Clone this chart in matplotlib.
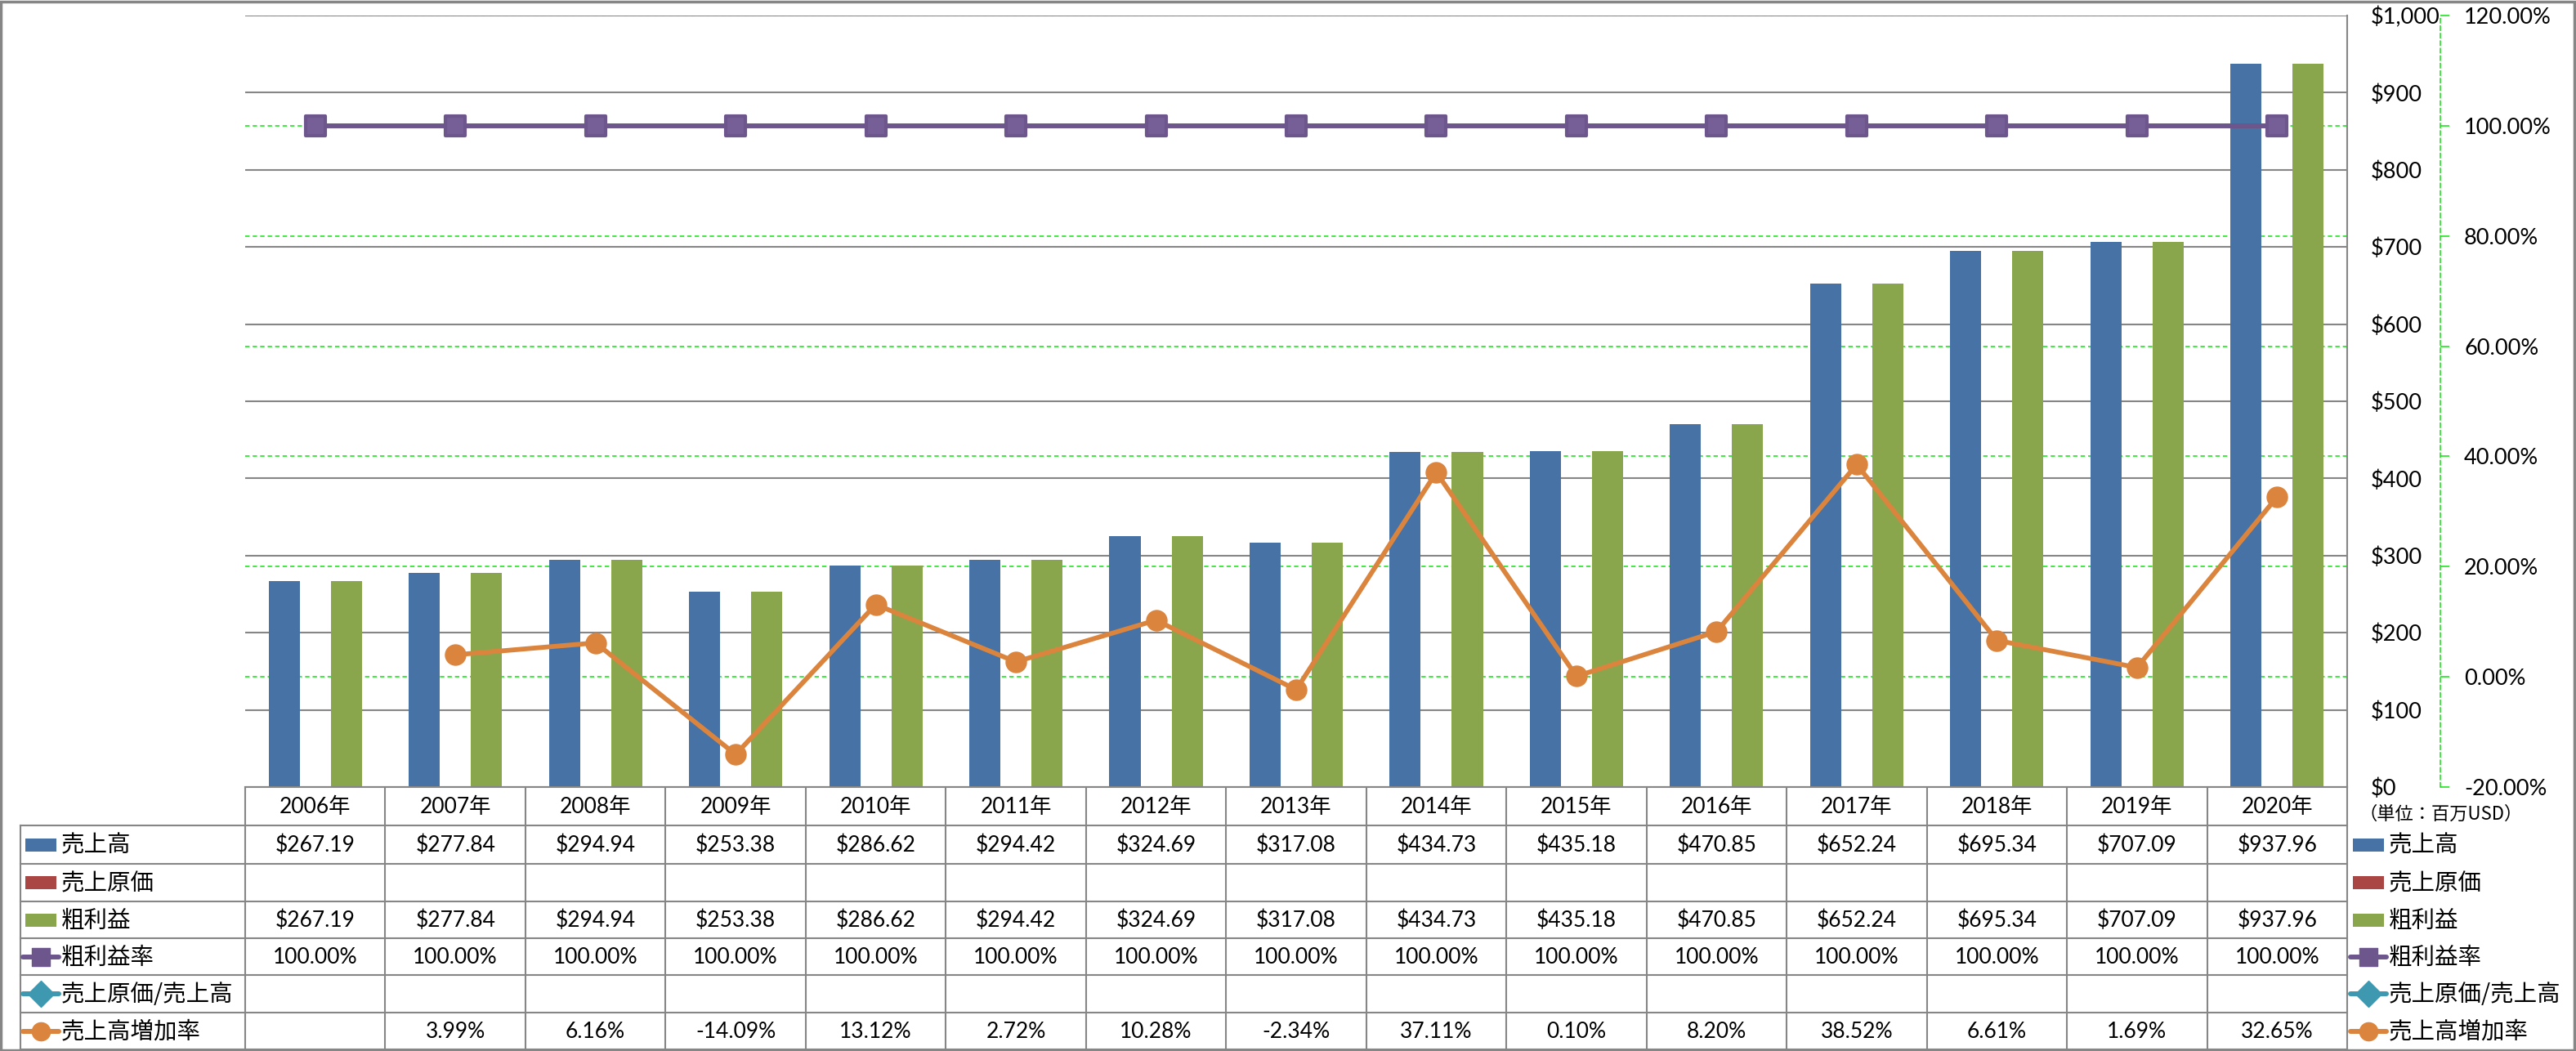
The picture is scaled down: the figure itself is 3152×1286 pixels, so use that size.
import matplotlib
matplotlib.use("Agg")
import matplotlib.pyplot as plt
import matplotlib.transforms as mtransforms
from matplotlib.markers import MarkerStyle
from matplotlib.patches import Rectangle
from matplotlib.lines import Line2D

plt.rcParams["font.family"] = ["Lato", "Noto Sans CJK JP", "DejaVu Sans"]

# --- datos ---
years = ["2006年", "2007年", "2008年", "2009年", "2010年", "2011年", "2012年", "2013年",
         "2014年", "2015年", "2016年", "2017年", "2018年", "2019年", "2020年"]
sales = [267.19, 277.84, 294.94, 253.38, 286.62, 294.42, 324.69, 317.08,
         434.73, 435.18, 470.85, 652.24, 695.34, 707.09, 937.96]
cogs = [None, None, None, None, None, None, None, None,
        None, None, None, None, None, None, None]
gross = [267.19, 277.84, 294.94, 253.38, 286.62, 294.42, 324.69, 317.08,
         434.73, 435.18, 470.85, 652.24, 695.34, 707.09, 937.96]
margin = [100.0, 100.0, 100.0, 100.0, 100.0, 100.0, 100.0, 100.0,
          100.0, 100.0, 100.0, 100.0, 100.0, 100.0, 100.0]
cogs_ratio = [None, None, None, None, None, None, None, None,
              None, None, None, None, None, None, None]
growth = [None, 3.99, 6.16, -14.09, 13.12, 2.72, 10.28, -2.34,
          37.11, 0.10, 8.20, 38.52, 6.61, 1.69, 32.65]
usd_ticks = [0, 100, 200, 300, 400, 500, 600, 700, 800, 900, 1000]
pct_ticks = [-20, 0, 20, 40, 60, 80, 100, 120]
series_names = ["売上高", "売上原価", "粗利益", "粗利益率", "売上原価/売上高", "売上高増加率"]

C_BLUE, C_RED, C_GREEN = "#4672a6", "#aa4644", "#8aa64d"
C_PURPLE, C_CYAN, C_ORANGE = "#6c568c", "#3d98b0", "#db843d"
GRAY = "#868686"
LGREEN = "#11e011"

W, H = 3152, 1286
fig = plt.figure(figsize=(W / 100, H / 100), dpi=100)
PL, PR, PT, PB = 300, 2872, 19, 963
ax = fig.add_axes([PL / W, (H - PB) / H, (PR - PL) / W, (PB - PT) / H])
axp = ax.twinx()
ax.set_zorder(1)
axp.set_zorder(2)
axp.patch.set_visible(False)

x = list(range(len(years)))
bw = 0.222
ax.bar([i - bw for i in x], sales, bw, color=C_BLUE, zorder=2)
ax.bar(x, [0 if v is None else v for v in cogs], bw, color=C_RED, zorder=2)
ax.bar([i + bw for i in x], gross, bw, color=C_GREEN, zorder=2)
ax.set_xlim(-0.5, len(years) - 0.5)
ax.set_ylim(0, 1000)
ax.set_yticks(usd_ticks)
ax.set_yticklabels([f"${v:,.0f}" for v in usd_ticks])
ax.yaxis.tick_right()
ax.tick_params(axis="y", length=0, pad=21, labelsize=19.5)
ax.set_xticks([])
ax.grid(axis="y", color=GRAY, lw=1.5, zorder=0)
ax.set_axisbelow(True)
for s in ("left", "top"):
    ax.spines[s].set_visible(False)
ax.spines["right"].set_color(GRAY)
ax.spines["right"].set_linewidth(1.5)
ax.spines["bottom"].set_color(GRAY)
ax.spines["bottom"].set_linewidth(1.5)

# rejilla verde del eje secundario, detrás de las barras
blend = mtransforms.blended_transform_factory(ax.transAxes, axp.transData)
for v in pct_ticks[1:]:
    ax.plot([0, 1], [v, v], transform=blend, color=LGREEN, lw=1.1,
            dashes=(3.5, 2.5), zorder=1)

sq = MarkerStyle("s", joinstyle="round")
axp.plot(x, margin, color=C_PURPLE, lw=4.3, marker=sq, ms=17, mew=3,
         mec=C_PURPLE, mfc="#765e96")
gx = [i for i, v in zip(x, growth) if v is not None]
gy = [v for v in growth if v is not None]
axp.plot(gx, gy, color=C_ORANGE, lw=4.2, marker="o", ms=18, mec=C_ORANGE, mfc=C_ORANGE)
axp.set_ylim(-20, 120)
axp.set_yticks(pct_ticks)
axp.set_yticklabels([f"{v:.2f}%" for v in pct_ticks])
for lab, v in zip(axp.get_yticklabels(), pct_ticks):
    if v < 0:
        lab.set_color("red")
axp.spines["right"].set_position(("outward", 82))
axp.spines["right"].set_color(LGREEN)
axp.spines["right"].set_linestyle((0, (3.5, 2.5)))
axp.spines["right"].set_linewidth(1.1)
for s in ("left", "top", "bottom"):
    axp.spines[s].set_visible(False)
axp.tick_params(axis="y", length=8, width=1.1, color=LGREEN, pad=13, labelsize=19.5)

# --- tabla de datos y leyenda ---
tab = fig.add_axes([0, 0, 1, 1], zorder=0)
tab.set_xlim(0, W)
tab.set_ylim(H, 0)
tab.axis("off")
tb = mtransforms.blended_transform_factory(ax.transData, tab.transData)

rows = [963, 1010, 1057, 1103, 1148, 1193, 1239, 1284]
TL = 25
for i, yy in enumerate(rows[1:]):
    tab.plot([TL, PR], [yy, yy], color=GRAY, lw=1.5)
tab.plot([TL, TL], [rows[1], rows[-1]], color=GRAY, lw=1.5)
for i in range(len(years) + 1):
    tab.plot([i - 0.5, i - 0.5], [rows[0], rows[-1]], color=GRAY, lw=1.5, transform=tb)

cy = [(rows[k] + rows[k + 1]) / 2 for k in range(len(rows) - 1)]
for i, yl in enumerate(years):
    tab.text(i, cy[0] + 1, yl, transform=tb, ha="center", va="center", fontsize=19)

table_rows = [
    [None if v is None else f"${v:,.2f}" for v in sales],
    [None if v is None else f"${v:,.2f}" for v in cogs],
    [None if v is None else f"${v:,.2f}" for v in gross],
    [None if v is None else f"{v:.2f}%" for v in margin],
    [None if v is None else f"{v:.2f}%" for v in cogs_ratio],
    [None if v is None else f"{v:.2f}%" for v in growth],
]
for r, vals in enumerate(table_rows):
    for i, t in enumerate(vals):
        if t is not None:
            tab.text(i, cy[r + 1] + 1, t, transform=tb, ha="center", va="center", fontsize=19)

keys = [("bar", C_BLUE, None), ("bar", C_RED, None), ("bar", C_GREEN, None),
        ("line", C_PURPLE, sq), ("line", C_CYAN, "D"), ("line", C_ORANGE, "o")]


def draw_key(x0, x1, yc, kind, color, mk):
    if kind == "bar":
        tab.add_patch(Rectangle((x0 + 3, yc - 8), x1 - x0 - 6, 16, color=color, lw=0))
    else:
        tab.add_line(Line2D([x0, x1], [yc, yc], color=color, lw=4.3, solid_capstyle="round"))
        tab.add_line(Line2D([(x0 + x1) / 2], [yc], marker=mk, ms=16, color=color,
                            mec=color, mew=1))


for r, (name, (kind, color, mk)) in enumerate(zip(series_names, keys)):
    yc = cy[r + 1]
    draw_key(28, 72, yc, kind, color, mk)
    tab.text(75, yc + 1, name, ha="left", va="center", fontsize=20.5,
             family="Noto Sans CJK JP")
    draw_key(2876, 2920, yc, kind, color, mk)
    tab.text(2923, yc + 1, name, ha="left", va="center", fontsize=20.5,
             family="Noto Sans CJK JP")

tab.text(2987, 996, "（単位：百万USD）", ha="center", va="center", fontsize=16,
         family="Noto Sans CJK JP")

tab.add_patch(Rectangle((1.5, 1.5), W - 3, H - 3, fill=False, edgecolor=GRAY, lw=2.5))

fig.savefig("out.png", dpi=100, facecolor="white")
